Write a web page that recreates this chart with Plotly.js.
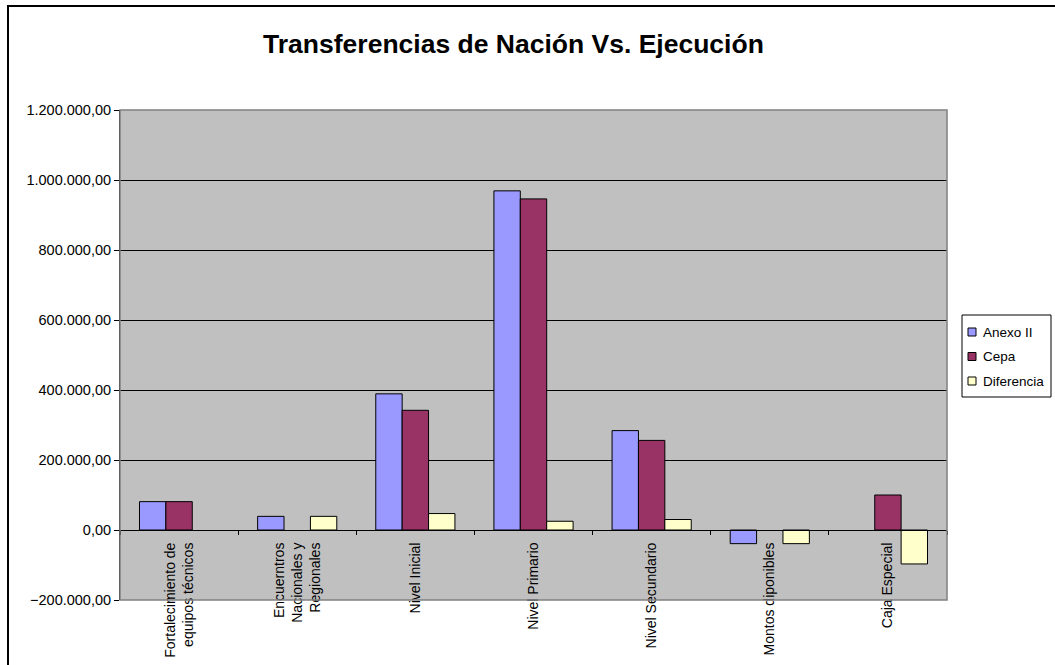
<!DOCTYPE html>
<html>
<head>
<meta charset="utf-8">
<script src="https://cdn.plot.ly/plotly-3.0.1.min.js"></script>
<style>
html,body{margin:0;padding:0;background:#fff;}
#chart{width:1055px;height:665px;}
</style>
</head>
<body>
<div id="chart"></div>
<script>
const categories = [
  "Fortalecimiento de<br>equipos técnicos",
  "Encuerntros<br>Nacionales y<br>Regionales",
  "Nivel Inicial",
  "Nivel Primario",
  "Nivel Secundario",
  "Montos diponibles",
  "Caja Especial"
];
// null = no bar drawn (empty cell in the source)
const anexoII    = [81000, 39000, 389000, 969000, 284000, -39000, null];
const cepa       = [81000, null, 342000, 946000, 256000, null, 100000];
const diferencia = [null, 39000, 47000, 25000, 30000, -39000, -97000];
const seriesNames = ["Anexo II", "Cepa", "Diferencia"];
const seriesColors = ["#9999FF", "#993366", "#FFFFCC"];
const yTickVals = [-200000, 0, 200000, 400000, 600000, 800000, 1000000, 1200000];

const font = "Liberation Sans, Arial, sans-serif";
const line = {color: "#000000", width: 1};
const seriesValues = [anexoII, cepa, diferencia];

const traces = seriesValues.map((vals, i) => ({
  type: "bar", name: seriesNames[i], x: categories, y: vals,
  marker: {color: seriesColors[i], line: line}
}));

// plot area in pixels: x 120..947, y 110..600
const W = 827, H = 490, L = 120, B = 600;
const px = v => (v - L) / W;
const py = v => (B - v) / H;

const shapes = [
  {type: "rect", xref: "paper", yref: "paper", x0: 0, x1: 1, y0: 0, y1: 1,
   line: {color: "#808080", width: 1.5}, layer: "above"},
  {type: "path", xref: "paper", yref: "paper",
   path: `M ${px(8)},-0.3 L ${px(8)},${py(6)} L 1.3,${py(6)}`,
   line: {color: "#000000", width: 2}},
  // legend box
  {type: "rect", xref: "paper", yref: "paper",
   x0: px(962), x1: px(1051), y0: py(397), y1: py(315),
   fillcolor: "#ffffff", line: {color: "#000000", width: 1}}
];
const annotations = [];
seriesNames.forEach((name, i) => {
  const cy = 332 + i * 24.5;
  shapes.push({type: "rect", xref: "paper", yref: "paper",
    x0: px(968), x1: px(976), y0: py(cy + 4), y1: py(cy - 4),
    fillcolor: seriesColors[i], line: {color: "#000000", width: 1}});
  annotations.push({xref: "paper", yref: "paper", x: px(981), y: py(cy),
    xanchor: "left", yanchor: "middle", showarrow: false, text: name,
    font: {family: font, size: 13.5, color: "#000"}});
});

const layout = {
  width: 1055, height: 665,
  paper_bgcolor: "#ffffff",
  plot_bgcolor: "#C0C0C0",
  separators: ",.",
  margin: {l: 120, r: 108, t: 110, b: 65, pad: 0, autoexpand: false},
  font: {family: font, size: 14, color: "#000"},
  title: {text: "<b>Transferencias de Nación Vs. Ejecución</b>",
          font: {family: font, size: 26.5, color: "#000"},
          x: 0.4867, xref: "container", xanchor: "center",
          y: 0.935, yref: "container", yanchor: "middle"},
  barmode: "group",
  bargap: 0.33,
  bargroupgap: 0,
  showlegend: false,
  xaxis: {
    type: "category",
    anchor: "free", position: 200000/1400000,
    showline: true, linecolor: "#000", linewidth: 1,
    ticks: "outside", ticklen: 4, tickcolor: "#000", tickson: "boundaries",
    tickangle: -90, ticklabelstandoff: 6,
    tickfont: {family: font, size: 14, color: "#000"},
    showgrid: false, zeroline: false,
    automargin: false, fixedrange: true
  },
  yaxis: {
    range: [-200000, 1200000],
    tickvals: yTickVals,
    tickformat: ",.2f",
    showline: true, linecolor: "#000", linewidth: 1,
    ticks: "outside", ticklen: 5, tickcolor: "#000",
    showgrid: true, gridcolor: "#000", gridwidth: 1,
    zeroline: true, zerolinecolor: "#000", zerolinewidth: 1,
    tickfont: {family: font, size: 14.5, color: "#000"},
    automargin: false, fixedrange: true
  },
  shapes: shapes,
  annotations: annotations
};

Plotly.newPlot("chart", traces, layout, {displayModeBar: false, staticPlot: true});
</script>
</body>
</html>
